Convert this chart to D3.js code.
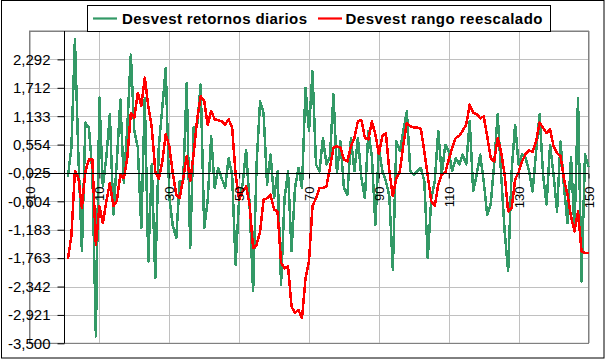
<!DOCTYPE html>
<html><head><meta charset="utf-8">
<script src="https://cdn.jsdelivr.net/npm/d3@7"></script>
<style>body{margin:0;background:#fff}svg{display:block}text{font-family:"Liberation Sans",Arial,sans-serif}</style>
</head><body><svg id="c" width="606" height="361"></svg>
<script>
const days = d3.range(1, 151);
const retornosDiarios = [
 -0.10, 0.50, 2.70, 0.30,-1.62, 1.00, 0.90, 0.00,-3.36, 1.51,
 -0.30, 0.30, 1.17,-0.87, 0.20, 1.47,-0.23, 0.90, 2.39, 0.83,
  0.50,-1.15, 1.50,-1.83, 0.15,-2.17, 0.50, 1.30, 2.12,-0.50,
 -1.10,-1.35,-0.20,-0.20, 1.81,-1.56, 0.90, 0.95, 1.78,-1.15,
 -0.60, 0.72,-0.33, 0.08,-0.13,-0.33, 0.28,-0.06,-1.90,-0.54,
 -0.26, 0.45,-0.67,-2.44, 0.15, 1.44, 1.20,-0.26, 0.35,-0.54,
  0.01,-2.30,-0.54, 0.01,-1.62,-0.33, 0.08,-0.33, 1.71, 0.83,
  2.05, 0.15, 0.01, 0.69, 0.15, 0.30, 1.58,-0.02, 0.62,-0.33,
 -0.47, 0.69, 0.01, 0.69,-0.13,-0.54, 0.83, 0.30,-1.08, 0.49,
  0.01,-0.19,-0.50,-2.00, 0.62, 0.42, 0.83, 1.23, 0.01,-0.06,
  0.01, 0.08,-0.19,-1.76,-0.54,-0.19, 0.83,-0.06, 0.55, 0.42,
  0.01, 0.28, 0.15, 0.35, 0.15, 1.03,-0.40,-0.06, 0.35,-0.19,
 -0.88,-0.67, 0.15, 1.17,-0.06,-1.22,-2.03, 0.01, 0.96, 0.15,
  0.35, 0.28, 0.01,-0.40, 0.40, 1.17,-0.06,-0.67, 0.55,-0.06,
 -0.81, 0.62,-0.33,-1.05, 0.30,-1.20, 1.50,-2.24, 0.35, 0.10
];
const rangoReescalado = [
 -1.78,-1.30, 0.02,-0.13,-0.74, 0.01, 0.25, 0.25,-1.49,-0.70,
 -1.05,-0.60,-0.23,-0.70,-0.60,-0.06,-0.13, 0.28, 1.20, 1.10,
  1.61, 1.34, 1.92, 1.34, 0.90, 0.01,-0.15, 0.20, 0.76, 0.52,
 -0.02,-0.47,-0.54,-0.13, 0.32,-0.19, 0.38, 1.07, 1.54, 1.44,
  0.96, 1.24, 1.07, 1.05, 1.03, 0.96, 1.07, 0.90,-0.06,-0.57,
 -0.40,-0.30,-0.67,-1.56,-1.49,-1.22,-0.57,-0.54,-0.47,-0.77,
 -0.81,-1.86,-1.97,-1.93,-2.75,-2.88,-2.82,-2.99,-2.17,-1.83,
 -0.70,-0.54,-0.33,-0.33,-0.30, 0.08, 0.49, 0.52, 0.49, 0.25,
  0.21, 0.52, 0.69, 1.03, 1.05, 0.69, 0.66, 1.03, 0.76, 0.36,
  0.73, 0.79, 0.01,-0.50,-0.13, 0.01, 0.55, 1.00, 0.93, 0.90,
  0.90, 0.88, 0.42,-0.09,-0.60,-0.70,-0.26,-0.05,-0.02, 0.25,
  0.49, 0.69, 0.73, 0.84, 0.96, 1.37, 1.20, 1.18, 1.09, 1.13,
  0.73, 0.28, 0.21, 0.69, 0.40,-0.06,-0.81,-0.74,-0.16,-0.01,
  0.21, 0.36, 0.44, 0.40, 0.62, 1.00, 0.90, 0.79, 0.87, 0.52,
  0.38, 0.32,-0.16,-0.47,-0.91,-1.22,-0.81,-1.62,-1.66,-1.66
];
const xTickValues = [-10, 10, 30, 50, 70, 90, 110, 130, 150];
const yTickLabels = ["-3,500","-2,921","-2,342","-1,763","-1,183","-0,604","-0,025","0,554","1,133","1,712","2,292"];
const seriesNames = ["Desvest retornos diarios", "Desvest rango reescalado"];
const seriesColors = ["#339966", "#ff0000"];

const svg = d3.select("#c");
const L = 29.5, R = 588.5, T = 31, B = 343.3;
const x = d3.scaleLinear().domain([-10, 150]).range([L, R]);
const y = d3.scaleLinear().domain([-3.5, 2.871]).range([B, T]);
const yTicks = yTickLabels.map(s => +s.replace(",", "."));
const crossY = -0.025;

// outer frame
svg.append("rect").attr("x", 1.5).attr("y", 0.5).attr("width", 602.5).attr("height", 357.5)
  .attr("fill", "#fff").attr("stroke", "#000").attr("stroke-width", 1);

// plot area
svg.append("rect").attr("x", L).attr("y", T).attr("width", R - L).attr("height", B - T)
  .attr("fill", "#fff").attr("stroke", "#808080");

// grid
const grid = svg.append("g").attr("stroke", "#c0c0c0").attr("stroke-width", 1).attr("shape-rendering", "crispEdges");
grid.selectAll(".h").data(yTicks.concat([2.871])).join("line")
  .attr("x1", L).attr("x2", R).attr("y1", d => Math.round(y(d)) + 0.5).attr("y2", d => Math.round(y(d)) + 0.5);
grid.selectAll(".v").data(xTickValues).join("line")
  .attr("y1", T).attr("y2", B).attr("x1", d => Math.round(x(d)) + 0.5).attr("x2", d => Math.round(x(d)) + 0.5);
svg.append("rect").attr("x", L).attr("y", T).attr("width", R - L).attr("height", B - T)
  .attr("fill", "none").attr("stroke", "#808080").attr("shape-rendering", "crispEdges");

// series
const line = d3.line().x((d, i) => x(days[i])).y(d => y(d));
[retornosDiarios, rangoReescalado].forEach((s, k) => {
  svg.append("path").datum(s).attr("d", line).attr("fill", "none")
    .attr("stroke", seriesColors[k]).attr("stroke-width", 2.5)
    .attr("stroke-linejoin", "round").attr("shape-rendering", "crispEdges");
});

// y axis
const yAxisX = Math.round(x(0)) + 0.5;
const yAxis = d3.axisLeft(y).tickValues(yTicks).tickSize(7).tickFormat((d, i) => yTickLabels[i]);
const ya = svg.append("g").attr("transform", `translate(${yAxisX},0)`).call(yAxis);
ya.select(".domain").attr("stroke", "#000").attr("d", `M0,${T}V${B}`);
ya.selectAll(".tick line").attr("stroke", "#000");
ya.selectAll(".tick text").attr("x", -14).attr("font-size", 15).attr("fill", "#000")
  .attr("font-family", "Liberation Sans, Arial, sans-serif");

// x axis
const xAxisY = Math.round(y(crossY)) + 0.5;
const xAxis = d3.axisBottom(x).tickValues(xTickValues).tickSize(5).tickFormat(d3.format("d"));
const xa = svg.append("g").attr("transform", `translate(0,${xAxisY})`).call(xAxis);
xa.select(".domain").attr("stroke", "#000").attr("d", `M${L},0H${R}`);
xa.selectAll(".tick line").attr("stroke", "#000");
xa.selectAll(".tick text").attr("font-size", 13).attr("fill", "#000")
  .attr("font-family", "Liberation Sans, Arial, sans-serif")
  .attr("transform", "rotate(-90)").attr("text-anchor", "end")
  .attr("x", -13).attr("y", 0).attr("dy", "0.35em");

// legend
const lg = svg.append("g");
lg.append("rect").attr("x", 87.5).attr("y", 5.5).attr("width", 463).attr("height", 26)
  .attr("fill", "#fff").attr("stroke", "#000");
const legendItems = [
  {x1: 93, x2: 117, tx: 122, w: 185},
  {x1: 318, x2: 342, tx: 345.5, w: 197}
];
legendItems.forEach((it, k) => {
  lg.append("line").attr("x1", it.x1).attr("x2", it.x2).attr("y1", 18.5).attr("y2", 18.5)
    .attr("stroke", seriesColors[k]).attr("stroke-width", 2.2);
  lg.append("text").attr("x", it.tx).attr("y", 23.5).attr("font-size", 15).attr("font-weight", "bold")
    .attr("textLength", it.w).attr("lengthAdjust", "spacing").text(seriesNames[k]);
});
</script></body></html>
